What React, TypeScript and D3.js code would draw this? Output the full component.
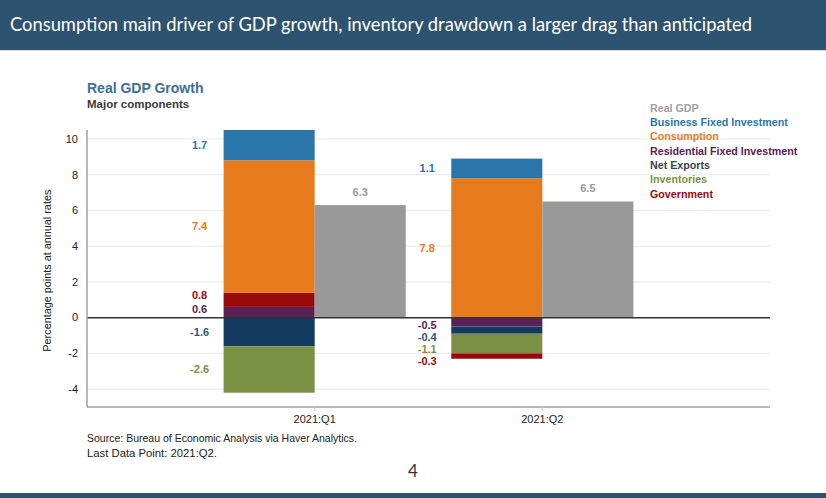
import React from "react";
import * as d3 from "d3";

const categories = ["2021:Q1", "2021:Q2"];
const components = [
  "Business Fixed Investment",
  "Consumption",
  "Residential Fixed Investment",
  "Net Exports",
  "Inventories",
  "Government",
];
// values per component, per quarter
const businessFixed = [1.7, 1.1];
const consumption = [7.4, 7.8];
const residential = [0.6, -0.5];
const netExports = [-1.6, -0.4];
const inventories = [-2.6, -1.1];
const government = [0.8, -0.3];
const realGDP = [6.3, 6.5];
const yTicks = [-4, -2, 0, 2, 4, 6, 8, 10];

const colors: Record<string, string> = {
  "Real GDP": "#999999",
  "Business Fixed Investment": "#2a75a9",
  Consumption: "#e67a1c",
  "Residential Fixed Investment": "#5a2157",
  "Net Exports": "#133b60",
  Inventories: "#7a9143",
  Government: "#9a0a0b",
};
const labelColors: Record<string, string> = {
  ...colors,
  "Net Exports": "#2f5676",
  "Real GDP": "#9a9a9a",
};
const legendColors: Record<string, string> = {
  ...colors,
  "Net Exports": "#3a4550",
  "Real GDP": "#a0a0a0",
};

const stackOrder = [
  "Residential Fixed Investment",
  "Government",
  "Consumption",
  "Business Fixed Investment",
];
const negOrder = ["Residential Fixed Investment", "Net Exports", "Inventories", "Government"];

const valuesOf: Record<string, number[]> = {
  "Business Fixed Investment": businessFixed,
  Consumption: consumption,
  "Residential Fixed Investment": residential,
  "Net Exports": netExports,
  Inventories: inventories,
  Government: government,
};

const W = 826;
const H = 498;
const left = 87;
const right = 770;
const top = 130;
const bottom = 407;
const font = "'Liberation Sans', Arial, sans-serif";

export default function App() {
  const y = d3.scaleLinear().domain([-5, 10.5]).range([bottom, top]);
  const x = d3.scaleLinear().domain([0, categories.length + 1]).range([left, right]);
  const step = x(1) - x(0);
  const bw = step * 0.4;

  const segs: any[] = [];
  const labels: any[] = [];
  categories.forEach((c, i) => {
    const cx = x(i + 1);
    let pos = 0;
    let neg = 0;
    const posSegs: any[] = [];
    const negSegs: any[] = [];
    stackOrder.forEach((k) => {
      const v = valuesOf[k][i];
      if (v >= 0) {
        posSegs.push({ k, v, y0: pos, y1: pos + v, cx });
        pos += v;
      }
    });
    negOrder.forEach((k) => {
      const v = valuesOf[k][i];
      if (v < 0) {
        negSegs.push({ k, v, y0: neg, y1: neg + v, cx });
        neg += v;
      }
    });
    segs.push(...posSegs, ...negSegs);
    const gap = 12;
    const lx = cx - bw - 24;
    let prev = 0;
    posSegs.forEach((s, j) => {
      const mid = y((s.y0 + s.y1) / 2);
      let ly = j === 0 ? Math.min(mid, y(0) - 8) : Math.min(mid, prev - gap - 2);
      if (s.v > 2) ly = mid;
      prev = ly;
      labels.push({ k: s.k, v: s.v, x: lx, y: ly });
    });
    prev = y(0) + 8 - gap;
    negSegs.forEach((s) => {
      const mid = y((s.y0 + s.y1) / 2);
      const ly = Math.max(mid, prev + gap);
      prev = ly;
      labels.push({ k: s.k, v: s.v, x: lx, y: ly });
    });
  });

  const legendItems = ["Real GDP", ...components];

  return (
    <div style={{ position: "fixed", left: 0, top: 0 }}>
      <svg width={W} height={H} style={{ display: "block", background: "#fff" }}>
        <rect x={0} y={0} width={W} height={50} fill="#2e5370" />
        <line x1={0} x2={W} y1={50.5} y2={50.5} stroke="#d8d8d8" />
        <text
          x={10}
          y={31}
          fill="#fff"
          fontFamily="Lato, 'Open Sans', sans-serif"
          fontSize={20}
          textLength={742}
          lengthAdjust="spacingAndGlyphs"
        >
          Consumption main driver of GDP growth, inventory drawdown a larger drag than anticipated
        </text>
        <rect x={0} y={493} width={W} height={5} fill="#2e5370" />

        <text x={left} y={93} fill="#3d6f98" fontFamily={font} fontWeight="bold" fontSize={14}>
          Real GDP Growth
        </text>
        <text x={left} y={108} fill="#3a3a3a" fontFamily={font} fontWeight="bold" fontSize={11.5}>
          Major components
        </text>

        {yTicks.map((t) => (
          <line key={t} x1={left} x2={right} y1={y(t)} y2={y(t)} stroke="#e9e9e9" strokeWidth={1} />
        ))}
        {yTicks.map((t) => (
          <text
            key={"l" + t}
            x={left - 9}
            y={y(t)}
            dy="0.35em"
            textAnchor="end"
            fontFamily={font}
            fontSize={11}
            fill="#222"
          >
            {t}
          </text>
        ))}
        <text
          transform={`translate(51,${y(0) - 47}) rotate(-90)`}
          textAnchor="middle"
          fontFamily={font}
          fontSize={11}
          fill="#222"
          textLength={162}
          lengthAdjust="spacingAndGlyphs"
        >
          Percentage points at annual rates
        </text>

        {segs.map((s, i) => (
          <rect
            key={i}
            x={s.cx - bw}
            width={bw}
            y={y(Math.max(s.y0, s.y1))}
            height={Math.abs(y(s.y0) - y(s.y1))}
            fill={colors[s.k]}
          />
        ))}
        {categories.map((c, i) => (
          <g key={c}>
            <rect x={x(i + 1)} width={bw} y={y(realGDP[i])} height={y(0) - y(realGDP[i])} fill={colors["Real GDP"]} />
            <text
              x={x(i + 1) + bw / 2}
              y={y(realGDP[i]) - 9}
              textAnchor="middle"
              fontFamily={font}
              fontWeight="bold"
              fontSize={11}
              fill={labelColors["Real GDP"]}
            >
              {realGDP[i].toFixed(1)}
            </text>
          </g>
        ))}
        {labels.map((l, i) => (
          <text
            key={i}
            x={l.x}
            y={l.y}
            dy="0.35em"
            textAnchor="middle"
            fontFamily={font}
            fontWeight="bold"
            fontSize={11}
            fill={labelColors[l.k]}
          >
            {l.v.toFixed(1)}
          </text>
        ))}

        <line x1={left} x2={right} y1={y(0)} y2={y(0)} stroke="#333" strokeWidth={1.5} />
        <line x1={left} x2={left} y1={top} y2={bottom} stroke="#a0a0a0" strokeWidth={1.5} />
        <line x1={left} x2={right} y1={bottom} y2={bottom} stroke="#a0a0a0" strokeWidth={1.5} />
        {categories.map((c, i) => (
          <g key={"x" + c}>
            <line x1={x(i + 1)} x2={x(i + 1)} y1={bottom} y2={bottom + 4} stroke="#ccc" />
            <text
              x={x(i + 1)}
              y={bottom + 12}
              dy="0.35em"
              textAnchor="middle"
              fontFamily={font}
              fontSize={11}
              fill="#222"
            >
              {c}
            </text>
          </g>
        ))}

        {legendItems.map((k, i) => (
          <text
            key={k}
            x={650}
            y={108 + i * 14.3}
            dy="0.35em"
            fontFamily={font}
            fontWeight="bold"
            fontSize={10.7}
            fill={legendColors[k]}
          >
            {k}
          </text>
        ))}

        <text x={left} y={442} fontFamily={font} fontSize={11} fill="#222" textLength={270} lengthAdjust="spacingAndGlyphs">
          Source: Bureau of Economic Analysis via Haver Analytics.
        </text>
        <text x={left} y={457} fontFamily={font} fontSize={11} fill="#222" textLength={130} lengthAdjust="spacingAndGlyphs">
          Last Data Point: 2021:Q2.
        </text>
        <text x={413} y={477} textAnchor="middle" fontFamily="Lato, sans-serif" fontSize={17} fill="#333">
          4
        </text>
      </svg>
    </div>
  );
}
